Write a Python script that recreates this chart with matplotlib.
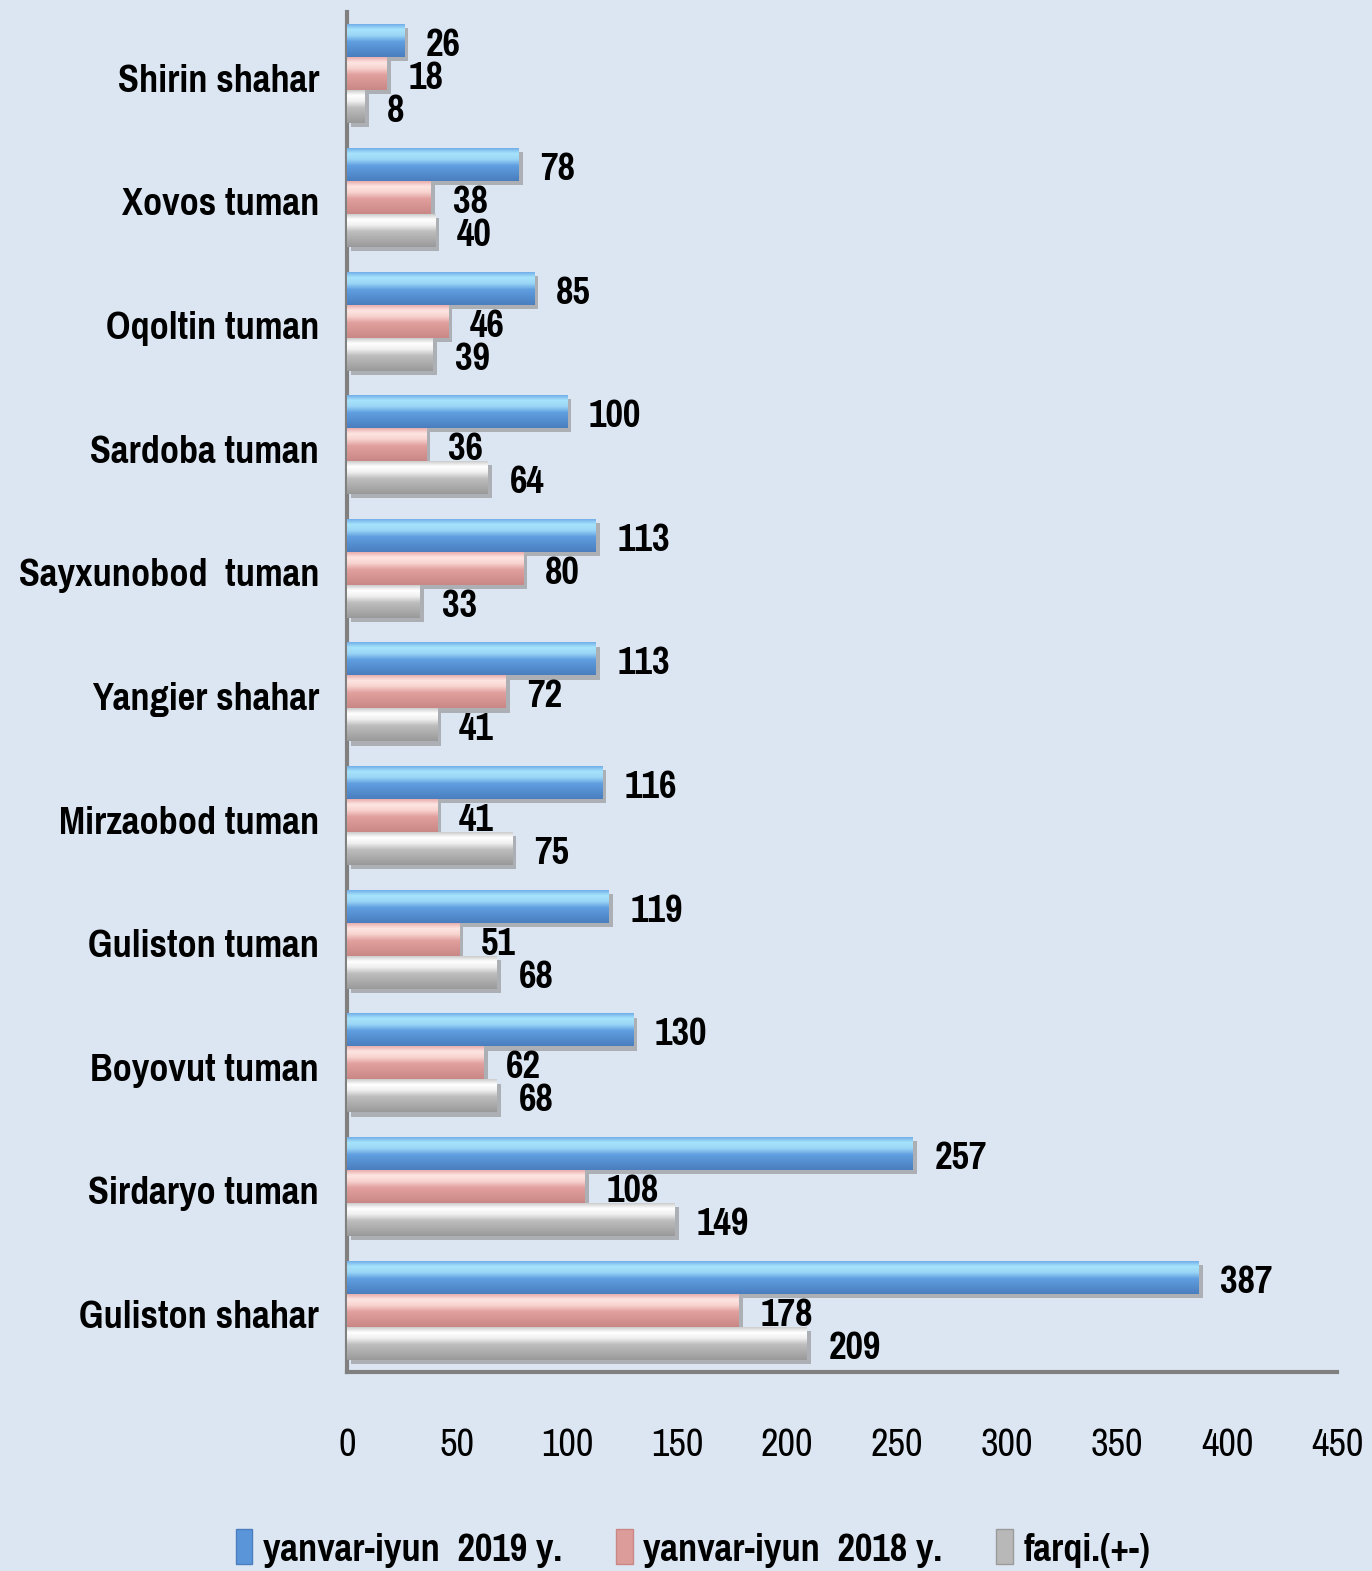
import numpy as np
import matplotlib
matplotlib.use("Agg")
import matplotlib.pyplot as plt
import matplotlib.transforms as mtransforms
from matplotlib.colors import LinearSegmentedColormap
from matplotlib.patches import Patch
import matplotlib.patheffects as pe

# data, bottom to top as drawn
categories = ["Guliston shahar", "Sirdaryo tuman", "Boyovut tuman", "Guliston tuman",
              "Mirzaobod tuman", "Yangier shahar", "Sayxunobod  tuman", "Sardoba tuman",
              "Oqoltin tuman", "Xovos tuman", "Shirin shahar"]
y2019 = [387, 257, 130, 119, 116, 113, 113, 100, 85, 78, 26]
y2018 = [178, 108, 62, 51, 41, 72, 80, 36, 46, 38, 18]
diff = [209, 149, 68, 68, 75, 41, 33, 64, 39, 40, 8]
series_names = ["yanvar-iyun  2019 y.", "yanvar-iyun  2018 y.", "farqi.(+-)"]
xticks = [0, 50, 100, 150, 200, 250, 300, 350, 400, 450]

BG = "#dce6f2"
plt.rcParams["font.family"] = ["Pragati Narrow", "DejaVu Sans"]

# gradient stops per series: top edge, highlight, highlight, mid, bottom
grads = [
    ["#6aa6e6", "#a6e3fb", "#9cd8f6", "#5f9ee0", "#4a7ebf"],
    ["#e4a4a2", "#fde6e3", "#f8d4d0", "#e1a09e", "#c98886"],
    ["#c4c4c4", "#ffffff", "#f0f0f0", "#bdbdbd", "#9a9a9a"],
]
mids = ["#5b95d9", "#dc9c9a", "#b8b8b8"]
stops = [0.0, 0.18, 0.35, 0.55, 1.0]

fig = plt.figure(figsize=(13.72, 15.71), dpi=100, facecolor=BG)
ax = fig.add_axes([0.2529, 0.1267, 0.7216, 0.8657])
ax.set_facecolor(BG)

y = np.arange(len(categories))
h = 0.267
offsets = [h, 0, -h]
all_vals = [y2019, y2018, diff]

grad_img = np.linspace(0, 1, 64).reshape(-1, 1)
for vals, off, g, m in zip(all_vals, offsets, grads, mids):
    cmap = LinearSegmentedColormap.from_list("g", list(zip(stops, g)))
    bars = ax.barh(y + off, vals, height=h, color=m, zorder=2)
    for b, v in zip(bars, vals):
        b.set_path_effects([pe.SimplePatchShadow(offset=(3, -3), shadow_rgbFace="#8c8c8c", alpha=0.6),
                            pe.Normal()])
        x0, y0, w, hh = b.get_x(), b.get_y(), b.get_width(), b.get_height()
        im = ax.imshow(grad_img, extent=[x0, x0 + w, y0, y0 + hh], aspect="auto",
                       cmap=cmap, zorder=3, interpolation="bilinear")
        im.set_clip_path(b)
        ax.annotate(str(v), xy=(v, y0 + hh / 2), xytext=(22, -5), textcoords="offset pixels",
                    va="center", ha="left", fontsize=30, fontweight="bold", zorder=4)

ax.set_xlim(0, 450)
ax.set_ylim(-0.5, len(categories) - 0.5)
ax.set_xticks(xticks)
ax.set_xticklabels([str(t) for t in xticks], fontsize=30)
ax.set_yticks(y)
ax.set_yticklabels(categories, fontsize=30, fontweight="bold")
ax.tick_params(axis="x", length=0, pad=40)
ax.tick_params(axis="y", length=0, pad=20)
shift = mtransforms.ScaledTranslation(0, -4 / 100, fig.dpi_scale_trans)
for lab in ax.get_yticklabels():
    lab.set_transform(lab.get_transform() + shift)
for s in ["top", "right"]:
    ax.spines[s].set_visible(False)
for s in ["left", "bottom"]:
    ax.spines[s].set_color("#808080")
    ax.spines[s].set_linewidth(3)

handles = [Patch(facecolor=m, edgecolor=g[-1]) for m, g in zip(mids, grads)]
fig.legend(handles, series_names, loc="lower center", bbox_to_anchor=(0.505, -0.022), ncol=3,
           frameon=False, handlelength=0.4, handleheight=0.9, handletextpad=0.25,
           columnspacing=1.3, prop={"size": 30, "weight": "bold"})

fig.savefig("out.png", dpi=100, facecolor=BG)
